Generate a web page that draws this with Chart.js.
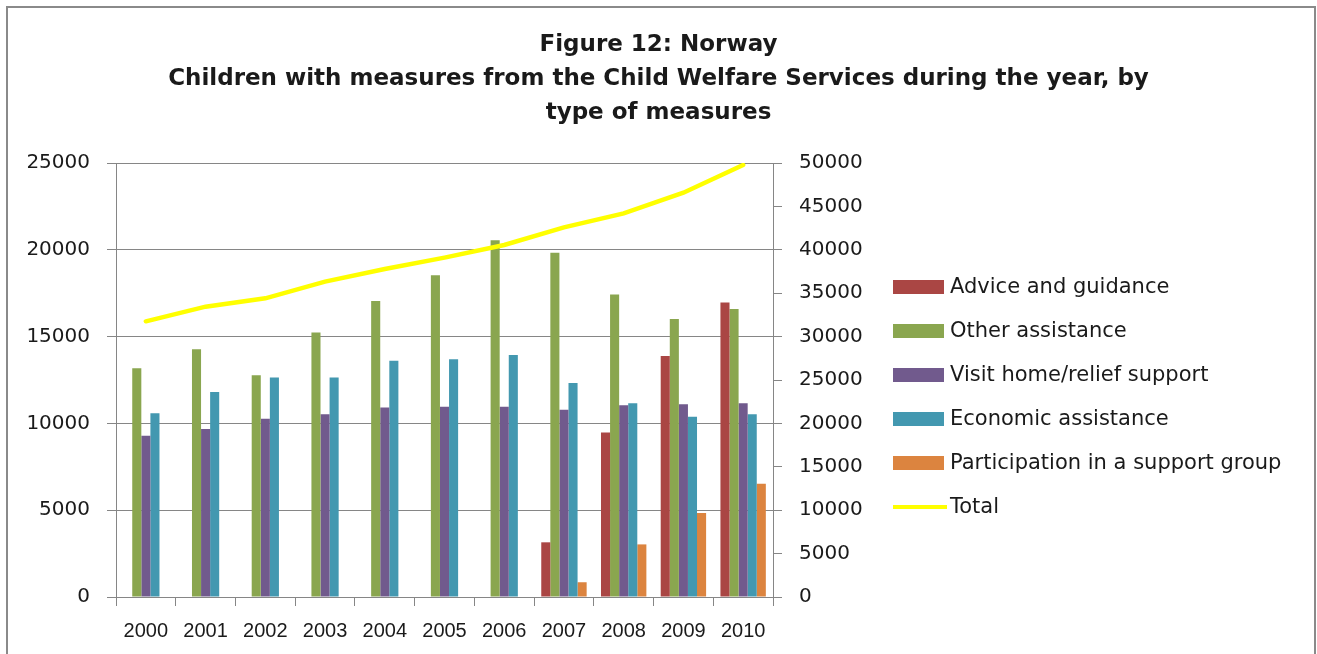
<!DOCTYPE html>
<html>
<head>
<meta charset="utf-8">
<title>Figure 12: Norway</title>
<script src="https://cdn.jsdelivr.net/npm/chart.js@4"></script>
<style>
  html, body { margin: 0; padding: 0; background: #fff; overflow: hidden; }
  #wrap { position: relative; width: 1317px; height: 654px; }
  #frame {
    position: absolute; left: 6px; top: 6px; width: 1306px; height: 700px;
    border: 2px solid #8a8a8a; pointer-events: none;
  }
  canvas { position: absolute; left: 0; top: 0; }
</style>
</head>
<body>
<div id="wrap">
  <canvas id="chart" width="1317" height="654"></canvas>
  <div id="frame"></div>
</div>
<script>
// ── Data ──
const years = ['2000', '2001', '2002', '2003', '2004', '2005', '2006', '2007', '2008', '2009', '2010'];
const adviceGuidance = [null, null, null, null, null, null, null, 3150, 9480, 13880, 16970];
const otherAssistance = [13170, 14270, 12770, 15230, 17050, 18530, 20550, 19830, 17430, 16010, 16590];
const visitHome = [9290, 9680, 10270, 10520, 10910, 10960, 10960, 10790, 11040, 11100, 11160];
const economicAssistance = [10580, 11810, 12650, 12650, 13610, 13690, 13940, 12330, 11160, 10390, 10520];
const supportGroup = [null, null, null, null, null, null, null, 850, 3030, 4840, 6530];
const total = [31760, 33450, 34410, 36330, 37790, 39100, 40550, 42590, 44200, 46580, 49770];

const leftTicks = [0, 5000, 10000, 15000, 20000, 25000];
const rightTicks = [0, 5000, 10000, 15000, 20000, 25000, 30000, 35000, 40000, 45000, 50000];

const titleLines = [
  'Figure 12: Norway',
  'Children with measures from the Child Welfare Services during the year, by',
  'type of measures'
];

// ── Style ──
const AXIS_GREY = '#868686';
const TEXT = '#1a1a1a';
const FONT = "'DejaVu Sans', 'Open Sans', sans-serif";

// ── Legend drawn at the right, from the datasets ──
const sideLegend = {
  id: 'sideLegend',
  afterDraw(chart) {
    const ctx = chart.ctx;
    ctx.save();
    ctx.font = `21px ${FONT}`;
    ctx.textBaseline = 'middle';
    ctx.textAlign = 'left';
    chart.data.datasets.forEach((ds, i) => {
      const y = 287 + i * 44;
      if (ds.type === 'line') {
        ctx.strokeStyle = ds.borderColor;
        ctx.lineWidth = 4;
        ctx.beginPath();
        ctx.moveTo(893, y);
        ctx.lineTo(947, y);
        ctx.stroke();
      } else {
        ctx.fillStyle = ds.backgroundColor;
        ctx.fillRect(893, y - 7, 51, 14);
      }
      ctx.fillStyle = TEXT;
      ctx.fillText(ds.label, 950, y + 1);
    });
    ctx.restore();
  }
};

const barDefaults = { type: 'bar', yAxisID: 'y', order: 1, borderWidth: 0, categoryPercentage: 0.76, barPercentage: 1.0 };

new Chart(document.getElementById('chart'), {
  data: {
    labels: years,
    datasets: [
      { ...barDefaults, label: 'Advice and guidance', data: adviceGuidance, backgroundColor: '#aa4644' },
      { ...barDefaults, label: 'Other assistance', data: otherAssistance, backgroundColor: '#8aa64f' },
      { ...barDefaults, label: 'Visit home/relief support', data: visitHome, backgroundColor: '#715a8d' },
      { ...barDefaults, label: 'Economic assistance', data: economicAssistance, backgroundColor: '#4398b0' },
      { ...barDefaults, label: 'Participation in a support group', data: supportGroup, backgroundColor: '#dc843f' },
      {
        type: 'line', label: 'Total', data: total, yAxisID: 'y2', order: 0,
        borderColor: '#ffff00', backgroundColor: '#ffff00', borderWidth: 4.5,
        pointRadius: 0, tension: 0, borderCapStyle: 'round'
      }
    ]
  },
  options: {
    responsive: false,
    animation: false,
    layout: { padding: 0 },
    plugins: {
      legend: { display: false },
      tooltip: { enabled: false },
      title: {
        display: true,
        text: titleLines,
        color: TEXT,
        font: { family: FONT, size: 23, weight: 'bold', lineHeight: 34 / 23 },
        padding: { top: 28, bottom: 33 }
      }
    },
    scales: {
      x: {
        offset: true,
        grid: { display: true, offset: true, drawOnChartArea: false, drawTicks: true, tickLength: 9, color: AXIS_GREY },
        border: { display: true, color: AXIS_GREY },
        ticks: { color: TEXT, font: { family: "'Liberation Sans', sans-serif", size: 20 }, padding: 13, maxRotation: 0, autoSkip: false },
        afterFit(s) { s.height = 57; }
      },
      y: {
        position: 'left',
        min: 0, max: 25000,
        afterBuildTicks(s) { s.ticks = leftTicks.map(v => ({ value: v })); },
        grid: { color: AXIS_GREY, drawTicks: true, tickLength: 9 },
        border: { display: true, color: AXIS_GREY },
        ticks: { color: TEXT, font: { family: FONT, size: 20 }, padding: 17, callback: v => String(v) },
        afterFit(s) { s.width = 116; }
      },
      y2: {
        position: 'right',
        min: 0, max: 50000,
        afterBuildTicks(s) { s.ticks = rightTicks.map(v => ({ value: v })); },
        grid: { drawOnChartArea: false, drawTicks: true, tickLength: 9, color: AXIS_GREY },
        border: { display: true, color: AXIS_GREY },
        ticks: { color: TEXT, font: { family: FONT, size: 20 }, padding: 17, callback: v => String(v) },
        // right axis reserves the legend's room as well
        afterFit(s) { s.width = 1317 - 773; }
      }
    }
  },
  plugins: [sideLegend]
});
</script>
</body>
</html>
